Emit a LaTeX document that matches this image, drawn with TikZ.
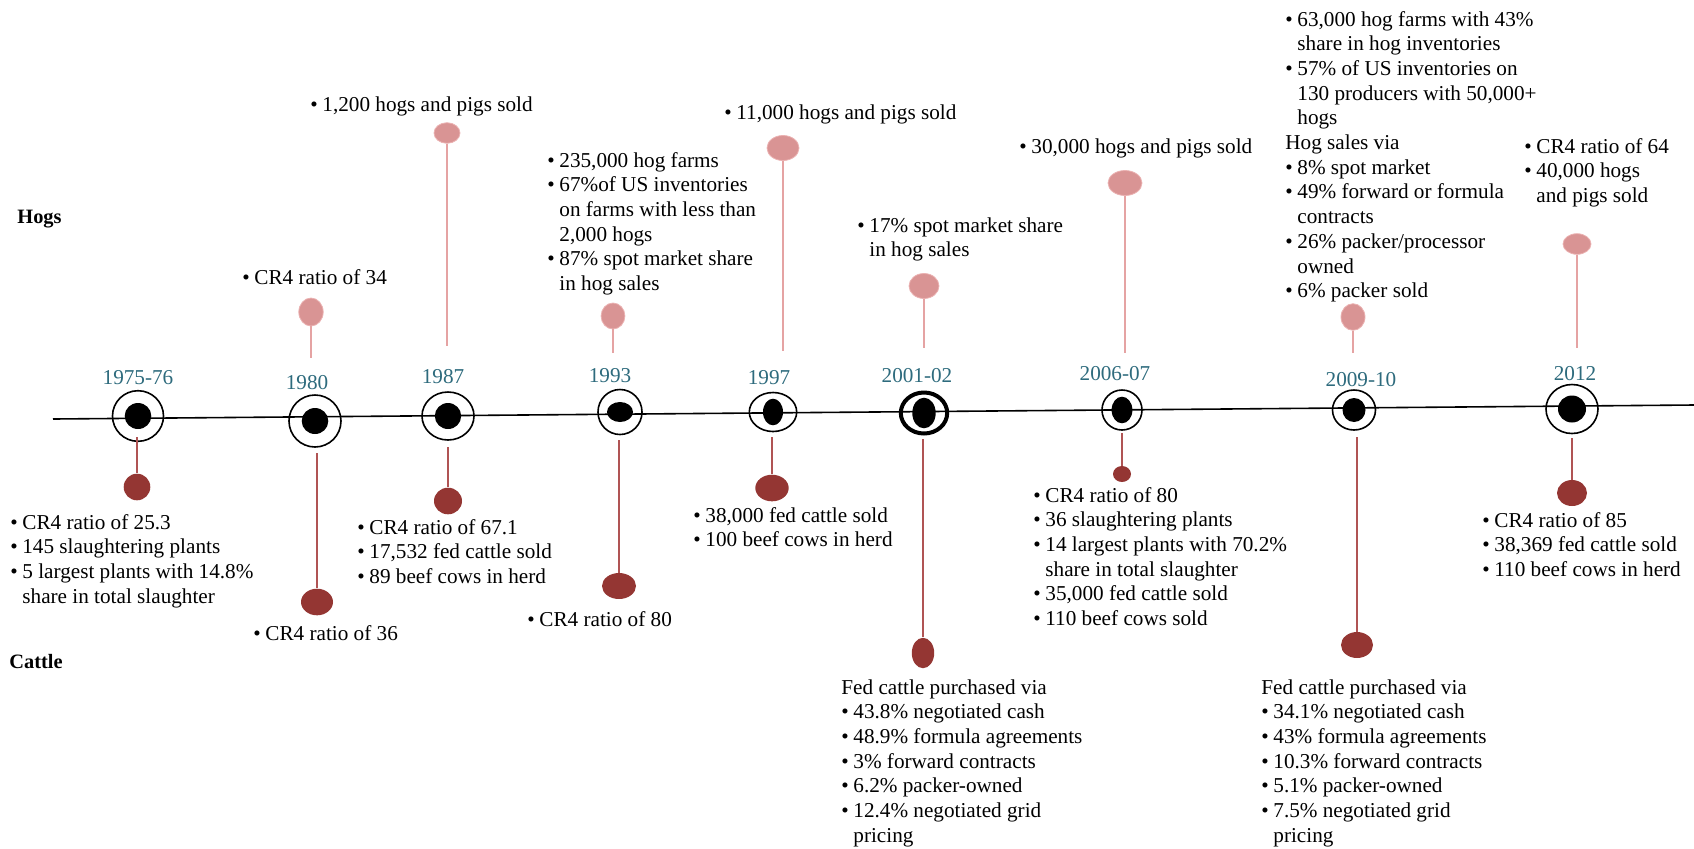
\documentclass[tikz,border=0pt]{standalone}
\usepackage{fontspec}
\setmainfont{Liberation Serif}
\usetikzlibrary{shapes.geometric}
\definecolor{hogpink}{rgb}{0.85, 0.58, 0.58}
\definecolor{hogedge}{rgb}{0.92, 0.70, 0.70}
\definecolor{hogline}{rgb}{0.90, 0.64, 0.64}
\definecolor{cattlered}{rgb}{0.58, 0.21, 0.20}
\definecolor{cattleline}{rgb}{0.69, 0.33, 0.33}
\definecolor{yearteal}{rgb}{0.18, 0.42, 0.49}
\newcommand{\infosize}{\fontsize{10.6pt}{12.35pt}\selectfont}

\begin{document}
\begin{tikzpicture}[x=0.5pt, y=-0.5pt]
	\tikzstyle{ring}=[ellipse, draw=black, line width=0.8pt, inner sep=0pt]
	\tikzstyle{dot}=[ellipse, fill=black, inner sep=0pt]
	\tikzstyle{year}=[anchor=base, inner sep=0pt, text=yearteal, font=\infosize]
	\tikzstyle{hogball}=[ellipse, fill=hogpink, draw=hogedge, line width=0.4pt, inner sep=0pt]
	\tikzstyle{cattleball}=[ellipse, fill=cattlered, inner sep=0pt]
	\tikzstyle{hogstick}=[draw=hogline, line width=0.7pt]
	\tikzstyle{cattlestick}=[draw=cattleline, line width=0.7pt]
	\tikzstyle{info}=[anchor=base west, inner sep=0pt, font=\infosize]
	\tikzstyle{kind}=[anchor=base west, inner sep=0pt, font=\fontsize{10.2pt}{12pt}\selectfont\bfseries]

	\useasboundingbox (0,0) rectangle (1694,848);

	% TIMELINE
	\coordinate (L0) at (53,419);
	\coordinate (L1) at (1694,405);
	\draw[line width=0.8pt] (L0) -- (L1);

	\node[kind] (hogs) at (17,223) {Hogs};
	\node[kind] (cattle) at (9,668) {Cattle};

	% RINGS
	\node[ring, minimum width=25.5pt, minimum height=25.3pt] (R75) at (138,416) {};
	\node[ring, minimum width=26pt, minimum height=26pt] (R80) at (315,421) {};
	\node[ring, minimum width=26pt, minimum height=24pt] (R87) at (448,416) {};
	\node[ring, minimum width=22pt, minimum height=22.5pt] (R93) at (620,412) {};
	\node[ring, minimum width=23.7pt, minimum height=19.5pt] (R97) at (773,412) {};
	\node[ring, line width=2pt, minimum width=23.2pt, minimum height=20.5pt] (R01) at (924,413) {};
	\node[ring, minimum width=20pt, minimum height=20pt] (R06) at (1122,410) {};
	\node[ring, minimum width=21.5pt, minimum height=20pt] (R09) at (1354,410) {};
	\node[ring, minimum width=26pt, minimum height=24.5pt] (R12) at (1572,409) {};

	\node[dot, minimum width=13.3pt, minimum height=13pt] (D75) at (R75) {};
	\node[dot, minimum width=13.3pt, minimum height=13pt] (D80) at (R80) {};
	\node[dot, minimum width=13.2pt, minimum height=13pt] (D87) at (R87) {};
	\node[dot, minimum width=13pt, minimum height=10pt] (D93) at (R93) {};
	\node[dot, minimum width=10pt, minimum height=13.3pt] (D97) at (R97) {};
	\node[dot, minimum width=11.7pt, minimum height=15.3pt] (D01) at (R01) {};
	\node[dot, minimum width=10.4pt, minimum height=13.3pt] (D06) at (R06) {};
	\node[dot, minimum width=11.5pt, minimum height=12pt] (D09) at (R09) {};
	\node[dot, minimum width=14pt, minimum height=13.5pt] (D12) at (R12) {};

	% YEARS
	\node[year] (Y75) at (138,384) {1975-76};
	\node[year] (Y80) at (307,389) {1980};
	\node[year] (Y87) at (443,383) {1987};
	\node[year] (Y93) at (610,382) {1993};
	\node[year] (Y97) at (769,384) {1997};
	\node[year] (Y01) at (917,382) {2001-02};
	\node[year] (Y06) at (1115,380) {2006-07};
	\node[year] (Y09) at (1361,386) {2009-10};
	\node[year] (Y12) at (1575,380) {2012};

	% HOGS
	\node[hogball, minimum width=12.2pt, minimum height=14pt] (H80) at (311,312) {};
	\node[hogball, minimum width=13pt, minimum height=10.3pt] (H87) at (447,133) {};
	\node[hogball, minimum width=11.9pt, minimum height=13pt] (H93) at (613,316) {};
	\node[hogball, minimum width=16pt, minimum height=12.5pt] (H97) at (783,148) {};
	\node[hogball, minimum width=15pt, minimum height=12.5pt] (H01) at (924,286) {};
	\node[hogball, minimum width=17pt, minimum height=12.5pt] (H06) at (1125,183) {};
	\node[hogball, minimum width=12pt, minimum height=13.3pt] (H09) at (1353,317) {};
	\node[hogball, minimum width=14pt, minimum height=10.3pt] (H12) at (1577,244) {};

	\coordinate (h80) at (311,358);
	\coordinate (h87) at (447,346);
	\coordinate (h93) at (613,353);
	\coordinate (h97) at (783,351);
	\coordinate (h01) at (924,348);
	\coordinate (h06) at (1125,353);
	\coordinate (h09) at (1353,353);
	\coordinate (h12) at (1577,348);

	\path[hogstick]
		(H80) edge (h80)
		(H87) edge (h87)
		(H93) edge (h93)
		(H97) edge (h97)
		(H01) edge (h01)
		(H06) edge (h06)
		(H09) edge (h09)
		(H12) edge (h12)
	;

	\node[info] (T80h) at (242,284) {\begin{tabular}[t]{@{}l@{\hspace{2.3pt}}l@{}}
		\textbullet & CR4 ratio of 34 \\
	\end{tabular}};
	\node[info] (T87h) at (310,111) {\begin{tabular}[t]{@{}l@{\hspace{2.3pt}}l@{}}
		\textbullet & 1,200 hogs and pigs sold \\
	\end{tabular}};
	\node[info] (T93h) at (547,167) {\begin{tabular}[t]{@{}l@{\hspace{2.3pt}}l@{}}
		\textbullet & 235,000 hog farms \\
		\textbullet & 67\%of US inventories \\
		& on farms with less than \\
		& 2,000 hogs \\
		\textbullet & 87\% spot market share \\
		& in hog sales \\
	\end{tabular}};
	\node[info] (T97h) at (724,119) {\begin{tabular}[t]{@{}l@{\hspace{2.3pt}}l@{}}
		\textbullet & 11,000 hogs and pigs sold \\
	\end{tabular}};
	\node[info] (T01h) at (857,232) {\begin{tabular}[t]{@{}l@{\hspace{2.3pt}}l@{}}
		\textbullet & 17\% spot market share \\
		& in hog sales \\
	\end{tabular}};
	\node[info] (T06h) at (1019,153) {\begin{tabular}[t]{@{}l@{\hspace{2.3pt}}l@{}}
		\textbullet & 30,000 hogs and pigs sold \\
	\end{tabular}};
	\node[info] (T09h) at (1285,26) {\begin{tabular}[t]{@{}l@{\hspace{2.3pt}}l@{}}
		\textbullet & 63,000 hog farms with 43\% \\
		& share in hog inventories \\
		\textbullet & 57\% of US inventories on \\
		& 130 producers with 50,000+ \\
		& hogs \\
		\multicolumn{2}{@{}l@{}}{Hog sales via} \\
		\textbullet & 8\% spot market \\
		\textbullet & 49\% forward or formula \\
		& contracts \\
		\textbullet & 26\% packer/processor \\
		& owned \\
		\textbullet & 6\% packer sold \\
	\end{tabular}};
	\node[info] (T12h) at (1524,153) {\begin{tabular}[t]{@{}l@{\hspace{2.3pt}}l@{}}
		\textbullet & CR4 ratio of 64 \\
		\textbullet & 40,000 hogs \\
		& and pigs sold \\
	\end{tabular}};

	% CATTLE
	\node[cattleball, minimum width=13.3pt, minimum height=13.3pt] (C75) at (137,487) {};
	\node[cattleball, minimum width=16pt, minimum height=13.3pt] (C80) at (317,602) {};
	\node[cattleball, minimum width=14pt, minimum height=13.3pt] (C87) at (448,501) {};
	\node[cattleball, minimum width=17pt, minimum height=13pt] (C93) at (619,586) {};
	\node[cattleball, minimum width=16.7pt, minimum height=13.3pt] (C97) at (772,488) {};
	\node[cattleball, minimum width=11.2pt, minimum height=15.2pt] (C01) at (923,653) {};
	\node[cattleball, minimum width=9pt, minimum height=8pt] (C06) at (1122,474) {};
	\node[cattleball, minimum width=16pt, minimum height=13pt] (C09) at (1357,645) {};
	\node[cattleball, minimum width=15pt, minimum height=13pt] (C12) at (1572,493) {};

	\coordinate (c75) at (137,437);
	\coordinate (c80) at (317,453);
	\coordinate (c87) at (448,447);
	\coordinate (c93) at (619,440);
	\coordinate (c97) at (772,437);
	\coordinate (c01) at (923,439);
	\coordinate (c06) at (1122,433);
	\coordinate (c09) at (1357,437);
	\coordinate (c12) at (1572,438);

	\path[cattlestick]
		(c75) edge (C75)
		(c80) edge (C80)
		(c87) edge (C87)
		(c93) edge (C93)
		(c97) edge (C97)
		(c01) edge (C01)
		(c06) edge (C06)
		(c09) edge (C09)
		(c12) edge (C12)
	;

	\node[info] (T75c) at (10,529) {\begin{tabular}[t]{@{}l@{\hspace{2.3pt}}l@{}}
		\textbullet & CR4 ratio of 25.3 \\
		\textbullet & 145 slaughtering plants \\
		\textbullet & 5 largest plants with 14.8\% \\
		& share in total slaughter \\
	\end{tabular}};
	\node[info] (T80c) at (253,640) {\begin{tabular}[t]{@{}l@{\hspace{2.3pt}}l@{}}
		\textbullet & CR4 ratio of 36 \\
	\end{tabular}};
	\node[info] (T87c) at (357,534) {\begin{tabular}[t]{@{}l@{\hspace{2.3pt}}l@{}}
		\textbullet & CR4 ratio of 67.1 \\
		\textbullet & 17,532 fed cattle sold \\
		\textbullet & 89 beef cows in herd \\
	\end{tabular}};
	\node[info] (T93c) at (527,626) {\begin{tabular}[t]{@{}l@{\hspace{2.3pt}}l@{}}
		\textbullet & CR4 ratio of 80 \\
	\end{tabular}};
	\node[info] (T97c) at (693,522) {\begin{tabular}[t]{@{}l@{\hspace{2.3pt}}l@{}}
		\textbullet & 38,000 fed cattle sold \\
		\textbullet & 100 beef cows in herd \\
	\end{tabular}};
	\node[info] (T01c) at (841,694) {\begin{tabular}[t]{@{}l@{\hspace{2.3pt}}l@{}}
		\multicolumn{2}{@{}l@{}}{Fed cattle purchased via} \\
		\textbullet & 43.8\% negotiated cash \\
		\textbullet & 48.9\% formula agreements \\
		\textbullet & 3\% forward contracts \\
		\textbullet & 6.2\% packer-owned \\
		\textbullet & 12.4\% negotiated grid \\
		& pricing \\
	\end{tabular}};
	\node[info] (T06c) at (1033,502) {\begin{tabular}[t]{@{}l@{\hspace{2.3pt}}l@{}}
		\textbullet & CR4 ratio of 80 \\
		\textbullet & 36 slaughtering plants \\
		\textbullet & 14 largest plants with 70.2\% \\
		& share in total slaughter \\
		\textbullet & 35,000 fed cattle sold \\
		\textbullet & 110 beef cows sold \\
	\end{tabular}};
	\node[info] (T09c) at (1261,694) {\begin{tabular}[t]{@{}l@{\hspace{2.3pt}}l@{}}
		\multicolumn{2}{@{}l@{}}{Fed cattle purchased via} \\
		\textbullet & 34.1\% negotiated cash \\
		\textbullet & 43\% formula agreements \\
		\textbullet & 10.3\% forward contracts \\
		\textbullet & 5.1\% packer-owned \\
		\textbullet & 7.5\% negotiated grid \\
		& pricing \\
	\end{tabular}};
	\node[info] (T12c) at (1482,527) {\begin{tabular}[t]{@{}l@{\hspace{2.3pt}}l@{}}
		\textbullet & CR4 ratio of 85 \\
		\textbullet & 38,369 fed cattle sold \\
		\textbullet & 110 beef cows in herd \\
	\end{tabular}};
\end{tikzpicture}
\end{document}
